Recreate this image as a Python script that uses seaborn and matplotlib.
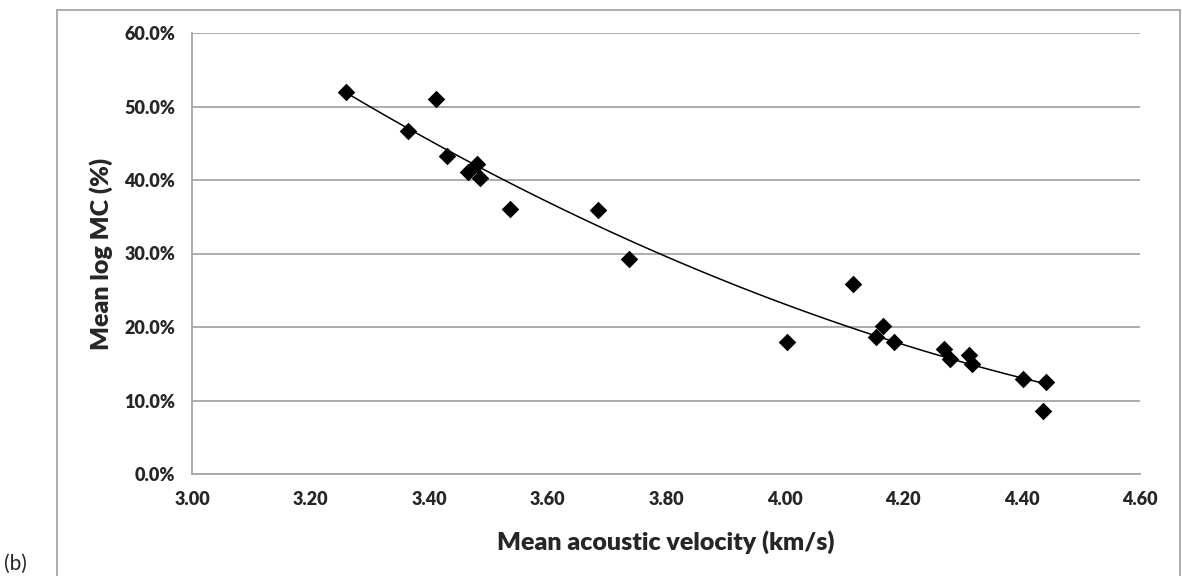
"""
Mean log MC vs mean acoustic velocity, scatter with a fitted trend curve.
"""

import numpy as np
import pandas as pd
import matplotlib
matplotlib.use("Agg")
import matplotlib.pyplot as plt
import seaborn as sns
from matplotlib.patches import Rectangle
from matplotlib.ticker import FuncFormatter, MultipleLocator

# values
velocity = [3.260, 3.365, 3.412, 3.431, 3.465, 3.481, 3.486, 3.537, 3.686, 3.738,
            4.005, 4.115, 4.155, 4.166, 4.184, 4.270, 4.280, 4.312, 4.316,
            4.403, 4.437, 4.442]
log_mc = [52.0, 46.7, 51.0, 43.3, 41.1, 42.2, 40.3, 36.0, 35.9, 29.3,
          18.0, 25.9, 18.6, 20.2, 18.0, 17.0, 15.6, 16.2, 15.0,
          12.9, 8.6, 12.5]

x_ticks = [3.00, 3.20, 3.40, 3.60, 3.80, 4.00, 4.20, 4.40, 4.60]

df = pd.DataFrame({"velocity": velocity, "log_mc": log_mc})

sns.set_style("white")
plt.rcParams['font.family'] = ['Lato', 'DejaVu Sans']

fig = plt.figure(figsize=(11.82, 5.76), dpi=100)
ax = fig.add_axes([192 / 1182, 102 / 576, 948 / 1182, 441 / 576])

# trend curve (2nd order polynomial fit)
sns.regplot(data=df, x="velocity", y="log_mc", order=2, ci=None, scatter=False,
            truncate=True, line_kws={"color": "black", "lw": 1.1}, ax=ax)
sns.scatterplot(data=df, x="velocity", y="log_mc", marker="D", s=80,
                color="black", edgecolor="black", linewidth=0, ax=ax, zorder=3)

ax.set_xlim(3.0, 4.6)
ax.set_ylim(0, 60)
ax.set_xticks(x_ticks)
ax.yaxis.set_major_locator(MultipleLocator(10))
ax.xaxis.set_major_formatter(FuncFormatter(lambda v, p: f"{v:.2f}"))
ax.yaxis.set_major_formatter(FuncFormatter(lambda v, p: f"{v:.1f}%"))
ax.tick_params(axis="both", length=0, labelsize=13, pad=12)
for lab in ax.get_xticklabels() + ax.get_yticklabels():
    lab.set_fontweight("heavy")

ax.grid(axis="y", color="#a6a6a6", lw=1.3)
ax.set_axisbelow(True)
for side in ["top", "right"]:
    ax.spines[side].set_visible(False)
for side in ["left", "bottom"]:
    ax.spines[side].set_color("#a6a6a6")
    ax.spines[side].set_linewidth(1.3)

ax.set_xlabel("Mean acoustic velocity (km/s)", fontsize=18, fontweight="heavy", labelpad=16)
ax.set_ylabel("Mean log MC (%)", fontsize=18, fontweight="heavy", labelpad=8)

# outer chart frame and panel label
fig.patches.append(Rectangle((57 / 1182, -0.02), 1123 / 1182, 1.02 - 10 / 576,
                             transform=fig.transFigure, fill=False,
                             edgecolor="#a6a6a6", lw=1.3))
fig.text(4 / 1182, 2 / 576, "(b)", fontsize=15, ha="left", va="bottom")

fig.savefig("out.png", dpi=100)
